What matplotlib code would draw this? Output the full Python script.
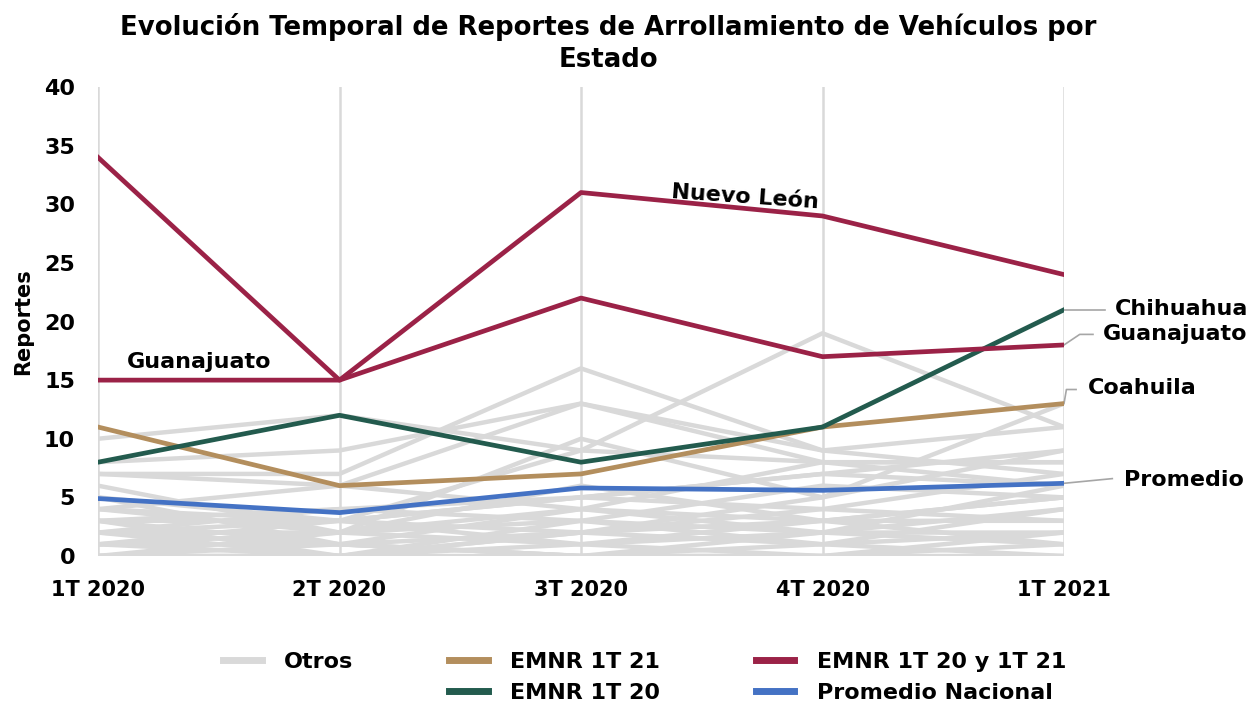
import matplotlib
matplotlib.use("Agg")
import matplotlib.pyplot as plt
from matplotlib.lines import Line2D

quarters = ["1T 2020", "2T 2020", "3T 2020", "4T 2020", "1T 2021"]

nuevo_leon = [34, 15, 31, 29, 24]
guanajuato = [15, 15, 22, 17, 18]
chihuahua = [8, 12, 8, 11, 21]
coahuila = [11, 6, 7, 11, 13]
promedio = [4.9, 3.7, 5.8, 5.6, 6.2]

otros = [
    [10, 12, 9, 8, 8],
    [8, 9, 13, 9, 7],
    [7, 7, 16, 9, 11],
    [7, 6, 13, 8, 8],
    [5, 3, 9, 19, 11],
    [4, 2, 10, 5, 9],
    [3, 3, 5, 7, 6],
    [3, 1, 4, 3, 5],
    [2, 2, 3, 2, 4],
    [2, 0, 2, 4, 3],
    [1, 3, 1, 2, 2],
    [1, 1, 0, 1, 0],
    [0, 2, 6, 3, 1],
    [0, 0, 1, 0, 2],
    [3, 4, 3, 6, 5],
    [5, 1, 2, 5, 13],
    [4, 6, 4, 2, 6],
    [2, 3, 5, 4, 7],
    [1, 0, 3, 1, 4],
    [0, 1, 0, 2, 1],
    [6, 2, 1, 3, 3],
    [2, 1, 0, 0, 0],
    [3, 0, 2, 1, 2],
    [1, 2, 4, 8, 6],
    [0, 0, 0, 0, 1],
    [4, 3, 2, 3, 5],
    [2, 4, 5, 7, 9],
]

GREY = "#D9D9D9"
CRIMSON = "#9B2247"
GREEN = "#235B4E"
TAN = "#B38E5D"
BLUE = "#4472C4"

plt.rcParams['font.family'] = ['DejaVu Sans']
plt.rcParams['font.weight'] = 'bold'

fig = plt.figure(figsize=(12.59, 7.05), dpi=100)
ax = fig.add_axes([98/1259, 1-556/705, (1064-98)/1259, (556-87)/705])

x = list(range(len(quarters)))
for s in otros:
    ax.plot(x, s, color=GREY, lw=3.2, solid_capstyle='butt', zorder=2)
ax.plot(x, coahuila, color=TAN, lw=3.4, zorder=3)
ax.plot(x, chihuahua, color=GREEN, lw=3.4, zorder=3)
ax.plot(x, guanajuato, color=CRIMSON, lw=3.4, zorder=3)
ax.plot(x, nuevo_leon, color=CRIMSON, lw=3.4, zorder=3)
ax.plot(x, promedio, color=BLUE, lw=3.4, zorder=4)

ax.set_xlim(0, 4)
ax.set_ylim(0, 40)
ax.set_xticks(x)
ax.set_xticklabels(quarters, fontsize=15, fontweight='bold')
ax.set_yticks(range(0, 41, 5))
ax.tick_params(axis='y', labelsize=16, length=0, pad=16.5)
ax.tick_params(axis='x', length=0, pad=17)
ax.grid(axis='x', color=GREY, lw=1.8, zorder=0)
ax.grid(axis='y', visible=False)
for sp in ax.spines.values():
    sp.set_visible(False)
ax.set_ylabel("Reportes", fontsize=15, fontweight='bold', labelpad=8)
for lbl in ax.get_yticklabels():
    lbl.set_horizontalalignment('right')

fig.text(608/1259, 1-13/705, "Evolución Temporal de Reportes de Arrollamiento de Vehículos por\nEstado",
         ha='center', va='top', fontsize=18.7, fontweight='bold', linespacing=1.3)

# annotations
FS = 16
ax.text(0.12, 15.7, "Guanajuato", fontsize=FS, fontweight='bold', ha='left', va='bottom')
ax.text(2.68, 30.6, "Nuevo León", fontsize=FS, fontweight='bold', ha='center', va='center', rotation=-4)

lc = "#A6A6A6"
ax.plot([4, 4.17], [21, 21], color=lc, lw=1.2, clip_on=False)
ax.text(4.21, 21.1, "Chihuahua", fontsize=FS, fontweight='bold', ha='left', va='center')
ax.plot([4, 4.065, 4.12], [18, 18.9, 18.9], color=lc, lw=1.2, clip_on=False)
ax.text(4.16, 18.9, "Guanajuato", fontsize=FS, fontweight='bold', ha='left', va='center')
ax.plot([4, 4.01, 4.05], [13, 14.2, 14.2], color=lc, lw=1.2, clip_on=False)
ax.text(4.1, 14.3, "Coahuila", fontsize=FS, fontweight='bold', ha='left', va='center')
ax.plot([4, 4.2], [6.2, 6.6], color=lc, lw=1.2, clip_on=False)
ax.text(4.25, 6.5, "Promedio", fontsize=FS, fontweight='bold', ha='left', va='center')

handles = [
    Line2D([], [], color=GREY, lw=5),
    Line2D([], [], color='none', lw=0),
    Line2D([], [], color=TAN, lw=5),
    Line2D([], [], color=GREEN, lw=5),
    Line2D([], [], color=CRIMSON, lw=5),
    Line2D([], [], color=BLUE, lw=5),
]
labels = ["Otros", "", "EMNR 1T 21", "EMNR 1T 20", "EMNR 1T 20 y 1T 21", "Promedio Nacional"]
leg = fig.legend(handles, labels, ncol=3, loc='upper left',
                 bbox_to_anchor=(203/1259, 1-632/705), frameon=False,
                 prop={'size': 16, 'weight': 'bold'}, handlelength=1.75,
                 handletextpad=1.0, columnspacing=4.3, labelspacing=0.5,
                 borderpad=0.4)

fig.savefig("out.png", dpi=100)
